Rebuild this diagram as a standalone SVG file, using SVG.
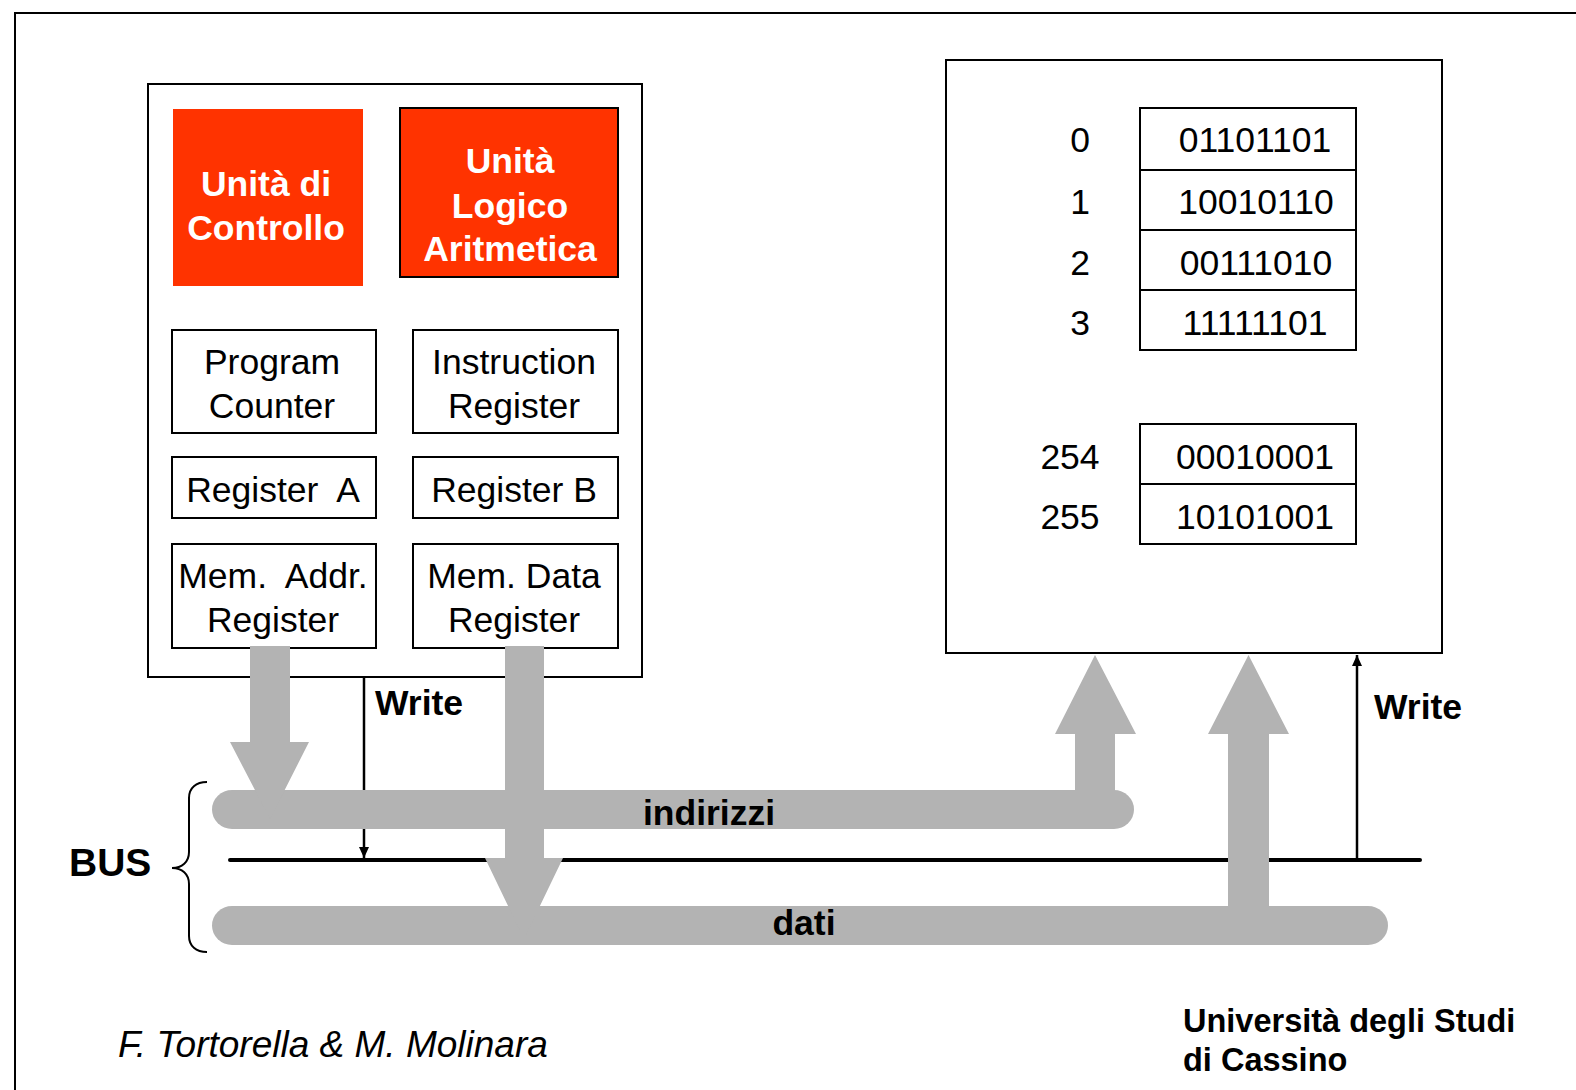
<svg xmlns="http://www.w3.org/2000/svg" width="1576" height="1090" viewBox="0 0 1576 1090">
  <style>
    text { font-family: "Liberation Sans", Arial, sans-serif; fill: #000; white-space: pre; }
    .reg { font-size: 35.5px; text-anchor: middle; }
    .unit { font-size: 35.5px; font-weight: bold; fill: #fff; text-anchor: middle; }
    .lbl { font-size: 35.5px; font-weight: bold; }
    .box { fill: #fff; stroke: #000; stroke-width: 2; }
    .bus { fill: #b3b3b3; }
    .wire { stroke: #000; stroke-width: 2; fill: none; }
    .strobe { stroke: #000; stroke-width: 2.5; fill: none; }
  </style>
  <defs>
    <marker id="tip" markerWidth="12" markerHeight="12" refX="11" refY="5" orient="auto" markerUnits="userSpaceOnUse">
      <path d="M0,0 L11,5 L0,10 Z" fill="#000"/>
    </marker>
  </defs>

  <rect width="1576" height="1090" fill="#fff"/>

  <!-- page frame (runs off the right and bottom edges) -->
  <path d="M15,1090 L15,13 L1576,13" fill="none" stroke="#000" stroke-width="2"/>

  <!-- CPU -->
  <g id="cpu">
    <rect class="box" x="148" y="84" width="494" height="593"/>
  </g>
  <g id="control-unit">
    <rect x="173" y="109" width="190" height="177" fill="#ff3300"/>
    <text class="unit" x="266" y="196">Unità di</text>
    <text class="unit" x="266" y="240">Controllo</text>
  </g>
  <g id="alu">
    <rect x="400" y="108" width="218" height="169" fill="#ff3300" stroke="#000" stroke-width="2"/>
    <text class="unit" x="510" y="173">Unità</text>
    <text class="unit" x="510" y="218">Logico</text>
    <text class="unit" x="510" y="261">Aritmetica</text>
  </g>
  <g id="program-counter">
    <rect class="box" x="172" y="330" width="204" height="103"/>
    <text class="reg" x="272" y="374">Program</text>
    <text class="reg" x="272" y="418">Counter</text>
  </g>
  <g id="instruction-register">
    <rect class="box" x="413" y="330" width="205" height="103"/>
    <text class="reg" x="514" y="374">Instruction</text>
    <text class="reg" x="514" y="418">Register</text>
  </g>
  <g id="register-a">
    <rect class="box" x="172" y="457" width="204" height="61"/>
    <text class="reg" x="273" y="502">Register  A</text>
  </g>
  <g id="register-b">
    <rect class="box" x="413" y="457" width="205" height="61"/>
    <text class="reg" x="514" y="502">Register B</text>
  </g>
  <g id="mem-addr-register">
    <rect class="box" x="172" y="544" width="204" height="104"/>
    <text class="reg" x="273" y="588">Mem.  Addr.</text>
    <text class="reg" x="273" y="632">Register</text>
  </g>
  <g id="mem-data-register">
    <rect class="box" x="413" y="544" width="205" height="104"/>
    <text class="reg" x="514" y="588">Mem. Data</text>
    <text class="reg" x="514" y="632">Register</text>
  </g>

  <!-- Memory -->
  <g id="memory">
    <rect class="box" x="946" y="60" width="496" height="593"/>
    <rect class="box" x="1140" y="108" width="216" height="242"/>
    <path class="wire" d="M1140,170 H1356 M1140,230 H1356 M1140,290 H1356"/>
    <rect class="box" x="1140" y="424" width="216" height="120"/>
    <path class="wire" d="M1140,484 H1356"/>
    <g class="reg">
      <text x="1080" y="151.5">0</text>
      <text x="1080" y="213.5">1</text>
      <text x="1080" y="275">2</text>
      <text x="1080" y="335">3</text>
      <text x="1070" y="468.5">254</text>
      <text x="1070" y="529">255</text>
      <text x="1255" y="151.5">01101101</text>
      <text x="1256" y="213.5">10010110</text>
      <text x="1256" y="275">00111010</text>
      <text x="1255" y="335">11111101</text>
      <text x="1255" y="468.5">00010001</text>
      <text x="1255" y="529">10101001</text>
    </g>
  </g>

  <!-- Bus and connectors -->
  <g id="connectors">
    <!-- write strobe from CPU, drawn beneath the bus bars -->
    <line class="strobe" x1="364" y1="677" x2="364" y2="858" marker-end="url(#tip)"/>

    <!-- address and data lines -->
    <rect class="bus" x="212" y="790" width="922" height="39" rx="20" ry="20"/>
    <rect class="bus" x="212" y="906" width="1176" height="39" rx="20" ry="20"/>

    <!-- control line -->
    <line x1="230" y1="860" x2="1420" y2="860" stroke="#000" stroke-width="4" stroke-linecap="round"/>

    <!-- write strobe into memory -->
    <line class="strobe" x1="1357" y1="860" x2="1357" y2="655" stroke-width="3" marker-end="url(#tip)"/>

    <!-- wide transfer arrows -->
    <polygon class="bus" points="250,646 290,646 290,742 309,742 270,819 230,742 250,742"/>
    <polygon class="bus" points="505,646 544,646 544,858 563,858 524,939 485,858 505,858"/>
    <polygon class="bus" points="1075,800 1075,734 1055,734 1095,655 1136,734 1115,734 1115,800"/>
    <polygon class="bus" points="1228,910 1228,734 1208,734 1248.5,655 1289,734 1269,734 1269,910"/>

    <!-- bus brace -->
    <path class="wire" d="M207,782 C196,782 189,788 189,798 L189,852 C189,862 182,868 172,868 C182,868 189,874 189,884 L189,936 C189,946 196,952 207,952"/>
  </g>

  <!-- labels -->
  <text class="lbl" x="375" y="715">Write</text>
  <text class="lbl" x="1374" y="719">Write</text>
  <text class="lbl" x="709" y="825" text-anchor="middle">indirizzi</text>
  <text class="lbl" x="804" y="935" text-anchor="middle">dati</text>
  <text x="69" y="876" font-size="39" font-weight="bold">BUS</text>

  <!-- credits -->
  <text x="118" y="1057" font-size="37" font-style="italic">F. Tortorella &amp; M. Molinara</text>
  <text x="1183" y="1032" font-size="32.5" font-weight="bold">Università degli Studi</text>
  <text x="1183" y="1071" font-size="32.5" font-weight="bold">di Cassino</text>
</svg>
